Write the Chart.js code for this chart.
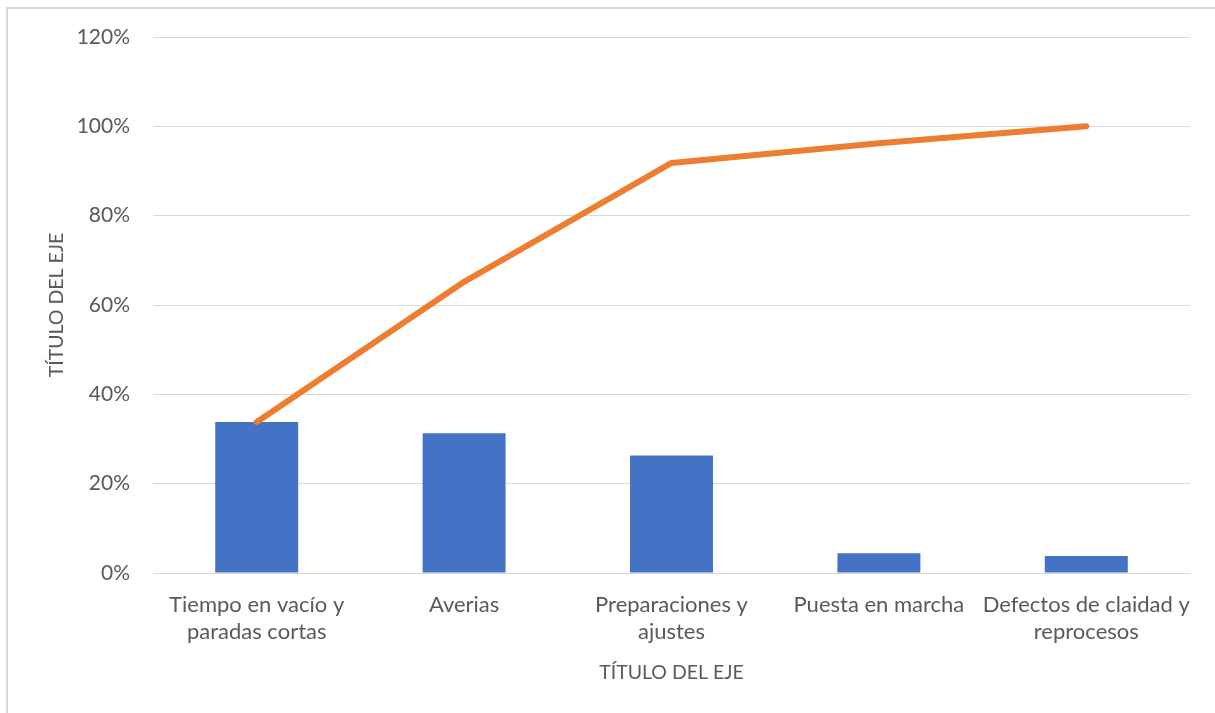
<!DOCTYPE html>
<html>
<head>
<meta charset="utf-8">
<script src="https://cdn.jsdelivr.net/npm/chart.js@4/dist/chart.umd.min.js"></script>
<style>
  html, body { margin: 0; padding: 0; background: #fff; overflow: hidden; width: 1215px; height: 713px; }
  #frame { position: absolute; left: 6px; top: 7px; width: 1300px; height: 800px; border: 2px solid #d9d9d9; box-sizing: border-box; }
  #wrap { position: absolute; left: 0; top: 0; width: 1215px; height: 713px; }
</style>
</head>
<body>
<div id="frame"></div>
<div id="wrap"><canvas id="c" width="1215" height="713"></canvas></div>
<script>
const categories = [
  ["Tiempo en vacío y", "paradas cortas"],
  ["Averias"],
  ["Preparaciones y", "ajustes"],
  ["Puesta en marcha"],
  ["Defectos de claidad y", "reprocesos"]
];
const barValues = [33.8, 31.3, 26.3, 4.4, 3.8];
const cumulativeValues = [33.8, 65.2, 91.8, 96.2, 100];
const yTicks = [0, 20, 40, 60, 80, 100, 120];
const axisTitleX = "TÍTULO DEL EJE";
const axisTitleY = "TÍTULO DEL EJE";

const FONT = "Lato";
const TEXT = "#595959";

new Chart(document.getElementById("c"), {
  data: {
    labels: categories,
    datasets: [
      {
        type: "line",
        data: cumulativeValues,
        borderColor: "#ED7D31",
        backgroundColor: "#ED7D31",
        borderWidth: 6,
        borderCapStyle: "round",
        borderJoinStyle: "round",
        pointRadius: 0,
        tension: 0,
        order: 0
      },
      {
        type: "bar",
        data: barValues,
        backgroundColor: "#4472C4",
        borderWidth: 0,
        categoryPercentage: 1,
        barPercentage: 0.4,
        order: 1
      }
    ]
  },
  options: {
    responsive: false,
    animation: false,
    devicePixelRatio: 1,
    layout: { padding: { left: 41, right: 25, top: 37, bottom: 25 } },
    plugins: { legend: { display: false }, tooltip: { enabled: false } },
    scales: {
      x: {
        grid: { display: false, drawTicks: false },
        border: { display: true, color: "#d9d9d9", width: 1 },
        ticks: {
          color: TEXT,
          font: { family: FONT, size: 22, lineHeight: 1.25 },
          maxRotation: 0, minRotation: 0, autoSkip: false,
          padding: 18
        },
        title: {
          display: true, text: axisTitleX, color: TEXT,
          font: { family: FONT, size: 19.5 },
          padding: { top: 4, bottom: 4 }
        },
        afterFit: (s) => { s.height = 115; }
      },
      y: {
        min: 0, max: 120,
        afterBuildTicks: (s) => { s.ticks = yTicks.map(v => ({ value: v })); },
        grid: { color: "#d9d9d9", lineWidth: 1, drawTicks: false },
        border: { display: false },
        ticks: {
          color: TEXT,
          font: { family: FONT, size: 21 },
          padding: 23,
          callback: (v) => v + "%"
        },
        title: {
          display: true, text: axisTitleY, color: TEXT,
          font: { family: FONT, size: 19.5 },
          padding: { top: 4, bottom: 4 }
        },
        afterFit: (s) => { s.width = 112; }
      }
    }
  }
});
</script>
</body>
</html>
